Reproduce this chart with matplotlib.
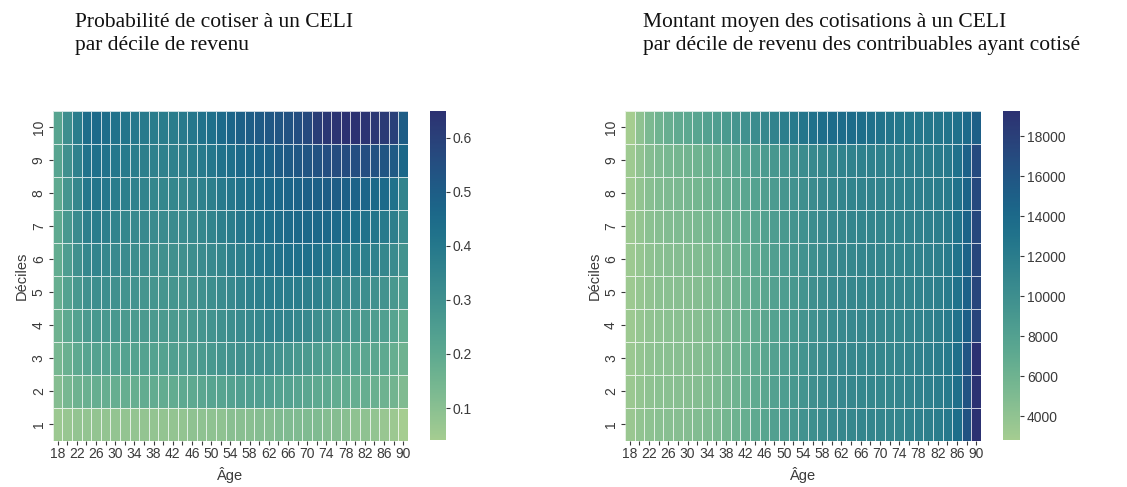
import numpy as np
import pandas as pd
import matplotlib
matplotlib.use("Agg")
import matplotlib.pyplot as plt
import seaborn as sns

# Ages (columns) and income deciles (rows, 10 on top)
ages = list(range(18, 91, 2))
deciles = list(range(10, 0, -1))

# Probability of contributing to a TFSA, by decile (rows 10 -> 1) and age
prob_d10 = [0.22, 0.31, 0.38, 0.44, 0.45, 0.44, 0.42, 0.41, 0.40, 0.39, 0.38, 0.38, 0.38, 0.39, 0.40, 0.42, 0.43, 0.45, 0.47,
            0.49, 0.50, 0.51, 0.52, 0.53, 0.54, 0.55, 0.57, 0.61, 0.63, 0.64, 0.65, 0.65, 0.64, 0.63, 0.62, 0.60, 0.50]
prob_d9 = [0.22, 0.30, 0.36, 0.42, 0.43, 0.42, 0.40, 0.39, 0.38, 0.37, 0.36, 0.36, 0.36, 0.37, 0.38, 0.39, 0.40, 0.42, 0.43,
           0.45, 0.46, 0.47, 0.48, 0.50, 0.51, 0.52, 0.53, 0.54, 0.55, 0.56, 0.56, 0.55, 0.55, 0.54, 0.53, 0.51, 0.46]
prob_d8 = [0.20, 0.28, 0.34, 0.40, 0.41, 0.40, 0.38, 0.37, 0.36, 0.35, 0.34, 0.34, 0.34, 0.34, 0.35, 0.36, 0.37, 0.39, 0.40,
           0.42, 0.43, 0.44, 0.45, 0.46, 0.47, 0.48, 0.49, 0.49, 0.50, 0.50, 0.49, 0.48, 0.47, 0.46, 0.45, 0.42, 0.35]
prob_d7 = [0.20, 0.27, 0.32, 0.37, 0.38, 0.37, 0.35, 0.34, 0.33, 0.33, 0.32, 0.32, 0.32, 0.32, 0.33, 0.34, 0.35, 0.37, 0.38,
           0.40, 0.41, 0.42, 0.43, 0.44, 0.45, 0.46, 0.46, 0.46, 0.46, 0.45, 0.44, 0.43, 0.42, 0.41, 0.39, 0.37, 0.32]
prob_d6 = [0.19, 0.25, 0.30, 0.34, 0.35, 0.34, 0.33, 0.32, 0.31, 0.31, 0.30, 0.30, 0.30, 0.30, 0.31, 0.32, 0.33, 0.34, 0.36,
           0.37, 0.39, 0.40, 0.41, 0.42, 0.43, 0.43, 0.43, 0.42, 0.41, 0.40, 0.39, 0.38, 0.37, 0.36, 0.34, 0.32, 0.29]
prob_d5 = [0.18, 0.23, 0.27, 0.30, 0.31, 0.31, 0.30, 0.29, 0.29, 0.28, 0.28, 0.28, 0.28, 0.28, 0.29, 0.30, 0.31, 0.32, 0.33,
           0.35, 0.36, 0.37, 0.38, 0.38, 0.38, 0.38, 0.37, 0.36, 0.35, 0.34, 0.33, 0.32, 0.31, 0.30, 0.29, 0.27, 0.25]
prob_d4 = [0.16, 0.20, 0.23, 0.26, 0.27, 0.27, 0.27, 0.26, 0.26, 0.26, 0.26, 0.26, 0.26, 0.26, 0.27, 0.28, 0.29, 0.30, 0.31,
           0.32, 0.33, 0.34, 0.35, 0.35, 0.35, 0.34, 0.33, 0.31, 0.30, 0.29, 0.28, 0.27, 0.26, 0.25, 0.24, 0.22, 0.19]
prob_d3 = [0.14, 0.17, 0.20, 0.22, 0.23, 0.23, 0.23, 0.23, 0.23, 0.23, 0.23, 0.23, 0.24, 0.24, 0.25, 0.26, 0.27, 0.28, 0.29,
           0.30, 0.30, 0.30, 0.30, 0.29, 0.28, 0.27, 0.26, 0.25, 0.24, 0.23, 0.23, 0.22, 0.21, 0.21, 0.20, 0.18, 0.16]
prob_d2 = [0.11, 0.14, 0.16, 0.17, 0.18, 0.18, 0.18, 0.18, 0.18, 0.19, 0.19, 0.19, 0.19, 0.20, 0.20, 0.21, 0.22, 0.22, 0.23,
           0.24, 0.24, 0.24, 0.24, 0.23, 0.23, 0.22, 0.21, 0.20, 0.20, 0.19, 0.19, 0.18, 0.18, 0.17, 0.16, 0.15, 0.12]
prob_d1 = [0.06, 0.07, 0.08, 0.08, 0.08, 0.08, 0.08, 0.08, 0.08, 0.08, 0.08, 0.08, 0.08, 0.08, 0.09, 0.09, 0.09, 0.09, 0.10,
           0.10, 0.10, 0.11, 0.11, 0.12, 0.12, 0.12, 0.12, 0.12, 0.11, 0.11, 0.10, 0.09, 0.09, 0.08, 0.07, 0.06, 0.04]

# Mean contribution amount ($) among contributors, same layout
amt_d10 = [2800, 4200, 5300, 6000, 6500, 7000, 7300, 7600, 8000, 8400, 8800, 9300, 9800, 10300, 10800, 11300, 11800, 12300, 12800,
           13200, 13500, 13700, 13800, 13700, 13500, 13200, 13000, 12800, 12600, 12500, 12500, 12600, 12700, 12900, 13300, 14000, 15000]
amt_d9 = [3200, 4000, 4700, 5100, 5400, 5600, 5800, 6000, 6300, 6600, 7000, 7400, 7900, 8300, 8700, 9100, 9500, 9900, 10300,
          10600, 10900, 11100, 11300, 11400, 11500, 11500, 11500, 11500, 11600, 11700, 11800, 11900, 12100, 12400, 13300, 14800, 17000]
amt_d8 = [3200, 3900, 4500, 4900, 5100, 5300, 5500, 5700, 6000, 6300, 6700, 7100, 7500, 7900, 8300, 8700, 9200, 9600, 10000,
          10400, 10700, 10900, 11100, 11200, 11300, 11300, 11300, 11300, 11400, 11500, 11600, 11700, 11900, 12200, 13100, 14600, 17200]
amt_d7 = [3300, 3800, 4300, 4600, 4800, 5000, 5100, 5300, 5500, 5800, 6200, 6600, 7000, 7500, 8000, 8500, 8900, 9400, 9800,
          10200, 10500, 10700, 10900, 11000, 11100, 11100, 11100, 11100, 11200, 11300, 11400, 11600, 11800, 12100, 13000, 14600, 17300]
amt_d6 = [3300, 3700, 4100, 4400, 4600, 4700, 4800, 4900, 5100, 5400, 5800, 6200, 6700, 7200, 7700, 8200, 8700, 9200, 9600,
          10000, 10300, 10600, 10800, 10900, 11000, 11000, 11000, 11000, 11100, 11200, 11300, 11500, 11700, 12100, 13000, 14700, 17400]
amt_d5 = [3300, 3700, 4000, 4300, 4400, 4500, 4600, 4700, 4900, 5200, 5600, 6000, 6500, 7000, 7500, 8000, 8500, 9000, 9500,
          9900, 10200, 10500, 10700, 10800, 10900, 10900, 10900, 10900, 11000, 11100, 11300, 11500, 11700, 12100, 13100, 14800, 17500]
amt_d4 = [3300, 3700, 4000, 4200, 4300, 4400, 4500, 4600, 4800, 5100, 5500, 5900, 6400, 6900, 7400, 7900, 8400, 8900, 9400,
          9800, 10100, 10400, 10600, 10700, 10800, 10800, 10800, 10800, 10900, 11000, 11200, 11400, 11700, 12100, 13100, 15000, 17600]
amt_d3 = [3400, 3800, 4100, 4300, 4400, 4500, 4600, 4700, 4900, 5200, 5600, 6000, 6500, 7000, 7500, 8000, 8500, 9000, 9500,
          9900, 10200, 10500, 10700, 10800, 10900, 10900, 10900, 10900, 11000, 11200, 11400, 11600, 11900, 12300, 13400, 16000, 19200]
amt_d2 = [3400, 3800, 4100, 4300, 4400, 4500, 4600, 4700, 4900, 5200, 5600, 6000, 6500, 7000, 7500, 8000, 8500, 9000, 9500,
          9900, 10200, 10500, 10700, 10800, 10900, 10900, 10900, 10900, 11000, 11200, 11400, 11600, 11900, 12300, 13400, 16200, 19300]
amt_d1 = [3500, 3900, 4200, 4400, 4500, 4600, 4700, 4800, 5000, 5300, 5700, 6100, 6600, 7100, 7600, 8100, 8600, 9100, 9600,
          10000, 10300, 10600, 10800, 10900, 11000, 11000, 11000, 11000, 11100, 11300, 11500, 11700, 12000, 12400, 13500, 16300, 19300]

prob = pd.DataFrame([prob_d10, prob_d9, prob_d8, prob_d7, prob_d6, prob_d5, prob_d4, prob_d3, prob_d2, prob_d1],
                    index=deciles, columns=ages)
amt = pd.DataFrame([amt_d10, amt_d9, amt_d8, amt_d7, amt_d6, amt_d5, amt_d4, amt_d3, amt_d2, amt_d1],
                   index=deciles, columns=ages)

title_left = ["Probabilité de cotiser à un CELI", "par décile de revenu"]
title_right = ["Montant moyen des cotisations à un CELI",
               "par décile de revenu des contribuables ayant cotisé"]

plt.rcParams['font.family'] = ['Liberation Sans', 'DejaVu Sans']
txt_col = "#3a3a3a"
cmap = sns.color_palette("crest", as_cmap=True)

W, H = 1127, 487
fig = plt.figure(figsize=(W / 100, H / 100), dpi=100)


def px_axes(x0, y0, x1, y1):
    # axes box given in pixel coordinates (top-left origin)
    return fig.add_axes([x0 / W, 1 - y1 / H, (x1 - x0) / W, (y1 - y0) / H])


def draw_panel(data, ax_box, cax_box, cbar_ticks, title, title_x):
    ax = px_axes(*ax_box)
    cax = px_axes(*cax_box)
    sns.heatmap(data, ax=ax, cbar_ax=cax, cmap=cmap, linewidths=0.6, linecolor=(1, 1, 1, 0.75),
                xticklabels=False, yticklabels=False)
    ax.set_xticks(np.arange(len(ages)) + 0.5)
    ax.set_xticklabels([str(a) if i % 2 == 0 else "" for i, a in enumerate(ages)], rotation=0)
    ax.set_yticks(np.arange(len(deciles)) + 0.5)
    ax.set_yticklabels([str(d) for d in deciles], rotation=90, va="center")
    ax.tick_params(axis="both", length=3, width=0.8, color=txt_col, labelcolor=txt_col,
                   labelsize=10, pad=2)
    ax.set_xlabel("Âge", fontsize=10.5, color=txt_col, labelpad=4)
    ax.set_ylabel("Déciles", fontsize=10.5, color=txt_col, labelpad=2)
    cax.set_yticks(cbar_ticks)
    cax.tick_params(length=3, width=0.8, color=txt_col, labelcolor=txt_col, labelsize=10, pad=2)
    # two-line title, baselines placed one under the other
    for k, line in enumerate(title):
        fig.text(title_x / W, 1 - (27 + 23 * k) / H, line, ha="left", va="baseline",
                 family="Liberation Serif", fontsize=15.5, color="#111111")
    return ax


draw_panel(prob, (52.7, 110.5, 408, 440.5), (430, 110.5, 446, 440.5),
           [0.1, 0.2, 0.3, 0.4, 0.5, 0.6], title_left, 75)
draw_panel(amt, (625, 110.5, 981, 440.5), (1003, 110.5, 1020, 440.5),
           list(range(4000, 18001, 2000)), title_right, 643)

fig.savefig("out.png", dpi=100)
